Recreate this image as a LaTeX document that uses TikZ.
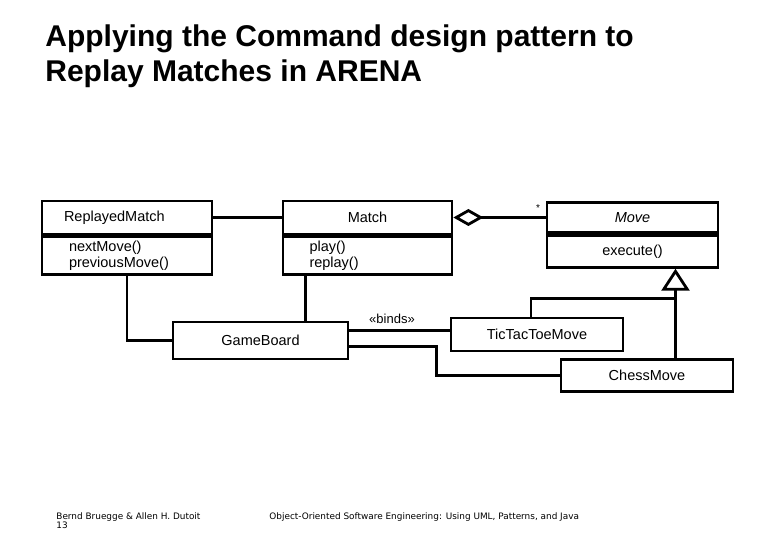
\documentclass[tikz,border=0pt]{standalone}
\usepackage{fontspec}
\setmainfont{Liberation Sans}
\newfontfamily\footfont{DejaVu Sans}
\usetikzlibrary{arrows.meta,calc,positioning}

\begin{document}
\begin{tikzpicture}[x=1pt,y=-1pt,line width=2.8pt,
  every node/.style={font=\fontsize{14.5}{16.5}\selectfont},
  cls/.style={draw,inner sep=0pt,minimum width=170pt},
  clsname/.style={cls,minimum height=33pt},
  clsops/.style={cls,minimum height=38pt,align=left,text width=116pt},
  plain/.style={draw,inner sep=0pt,minimum width=172pt,minimum height=33pt},
  foot/.style={anchor=north west,inner sep=0pt,font=\footfont\fontsize{8.9}{9.5}\selectfont}]
\useasboundingbox (0,0) rectangle (780,540);
\node[anchor=north west,inner sep=0pt,align=left,font=\bfseries\fontsize{30}{35}\selectfont] (title) at (44,23) {Applying the Command design pattern to\\Replay Matches in ARENA};
% classes
\node[clsname,align=left,text width=126pt] (RM) at (127,217.5) {ReplayedMatch};
\node[clsops,below=0pt of RM] (RMops) {nextMove()\\previousMove()};
\node[clsname,minimum width=169pt] (M) at (367.5,217.5) {Match};
\node[clsops,minimum width=169pt,below=0pt of M] (Mops) {play()\\replay()};
\node[clsname,minimum width=171pt,minimum height=30pt] (Mv) at (632.5,217.5) {\itshape Move};
\node[cls,minimum width=171pt,minimum height=32pt,below=0pt of Mv] (Mvops) {execute()};
\node[plain,minimum width=175pt,minimum height=37pt] (GB) at (260.5,340.5) {GameBoard};
\node[plain] (TTT) at (537,334.5) {TicTacToeMove};
\node[plain,minimum height=32pt] (CM) at (647,375.5) {ChessMove};
\coordinate (inh) at (675.5,298.5);
% labels
\node[font=\fontsize{10}{12}\selectfont] (star) at (538,208) {*};
\node[font=\fontsize{13}{15}\selectfont] (binds) at (392,319) {«binds»};
% associations
\path (RM) edge (M);
\draw[-{Diamond[open,length=30pt,width=17pt]}] (Mv.west) -- (Mv.west -| M.east);
\draw (RMops.south) |- (GB.west);
\draw ([xshift=45pt]GB.north) -- ([xshift=45pt]GB.north |- Mops.south);
\draw ([yshift=10pt]GB.east) coordinate (b1) -- (b1 -| TTT.west);
\draw ([yshift=-6pt]GB.east) -- ++(87,0) |- (CM.west);
% inheritance
\draw[-{Triangle[open,length=22pt,width=28pt]}] (CM.north -| inh) -- (Mvops.south -| inh);
\draw ([xshift=-6pt]TTT.north) |- (inh);
% footer
\node[foot,align=left] (auth) at (55,511) {Bernd Bruegge \& Allen H. Dutoit\\13};
\node[foot] (book) at (268,511) {Object-Oriented Software Engineering: Using UML, Patterns, and Java};
\end{tikzpicture}
\end{document}
